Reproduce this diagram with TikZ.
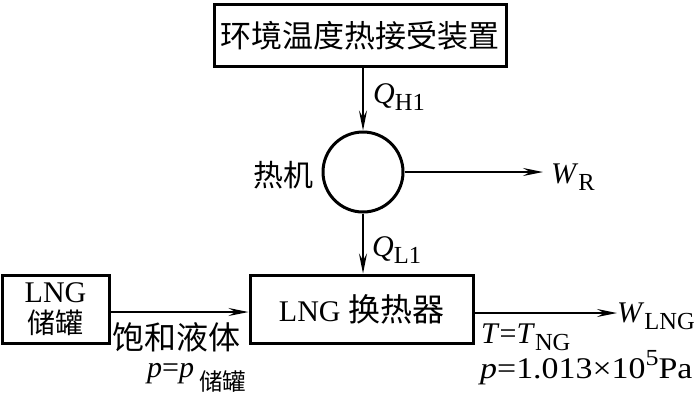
\documentclass[tikz,border=0pt]{standalone}
\usepackage{fontspec}
\setmainfont{Liberation Serif}
\newfontfamily\cjk{Noto Sans CJK SC}
\usetikzlibrary{arrows.meta}
\newcommand\mysub[1]{\raisebox{-0.25em}{\fontsize{24.5}{26}\selectfont #1}}
\newcommand\mysup[1]{\raisebox{0.42em}{\fontsize{23}{24}\selectfont #1}}
\begin{document}
\begin{tikzpicture}[x=1pt,y=-1pt,
  font=\fontsize{30}{34}\selectfont,
  box/.style={draw, line width=3pt, inner sep=0pt},
  conn/.style={line width=1.4pt, -{Stealth[length=20pt,width=8pt,inset=7pt]}},
  lbl/.style={inner sep=0pt}]
\useasboundingbox (0,0) rectangle (699,400);
\node[box, minimum width=292, minimum height=62] (env) at (360,35.5) {\cjk\fontsize{31}{34}\selectfont 环境温度热接受装置};
\node[circle, draw, line width=3pt, minimum size=80, inner sep=0pt] (eng) at (363,172) {};
\node[box, minimum width=223, minimum height=68] (hx) at (361.5,309) {LNG {\cjk\fontsize{32}{34}\selectfont 换热器}};
\node[box, minimum width=107, minimum height=68, align=center] (tank) at (55.5,309) {LNG\\[-3pt]{\cjk\fontsize{28}{30}\selectfont 储罐}};
\coordinate (wr) at (543,172);
\coordinate (wl) at (617,313);
\draw[conn] (env.south -| eng.north) -- (eng.north);
\draw[conn] (eng.south) -- (hx.north -| eng.south);
\draw[conn] (eng.east) -- (wr);
\draw[conn] ([yshift=-3pt]tank.east) -- ([yshift=-3pt]hx.west);
\draw[conn] ([yshift=-4pt]hx.east) -- (wl);
\node[lbl, anchor=base west] (qh) at (373,103) {\textit{Q}\mysub{H1}};
\node[lbl] (rj) at (283,175) {\cjk 热机};
\node[lbl, anchor=base west] (wrl) at (551,183) {\textit{W}\mysub{R}};
\node[lbl, anchor=base west] (ql) at (372,256) {\textit{Q}\mysub{L1}};
\node[lbl, anchor=base west] (wll) at (617,322) {\textit{W}\mysub{LNG}};
\node[lbl] (bh) at (176.5,337) {\cjk\fontsize{32}{34}\selectfont 饱和液体};
\node[lbl, anchor=base west] (pp) at (147,377) {\textit{p}=\textit{p}\,\raisebox{-0.45em}{\fontsize{23.5}{24}\selectfont\cjk 储罐}};
\node[lbl, anchor=base west] (tt) at (481,343) {\textit{T}=\textit{T}\mysub{NG}};
\node[lbl, anchor=base west] (pa) at (480,378) {\scalebox{1.13}[1]{\textit{p}=1.013×10\mysup{5}Pa}};
\end{tikzpicture}
\end{document}
